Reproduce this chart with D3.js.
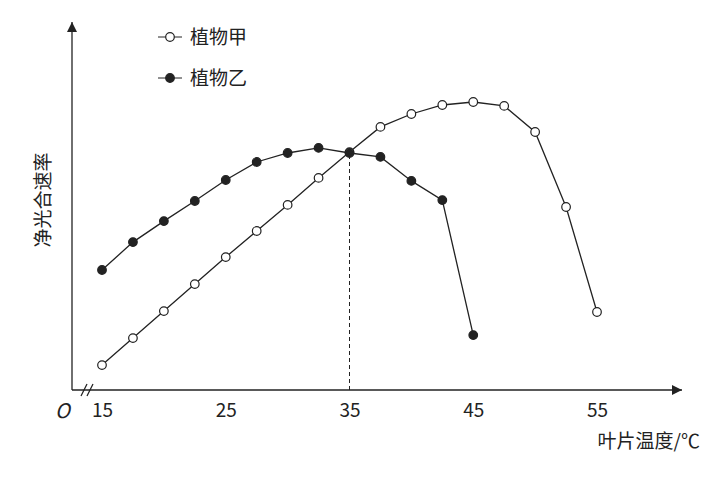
<!DOCTYPE html>
<html><head><meta charset="utf-8">
<script src="https://cdn.jsdelivr.net/npm/d3@7"></script>
<style>body{margin:0;background:#fff}text{font-family:"Noto Sans CJK SC","DejaVu Sans",sans-serif;fill:#222}</style>
</head><body><svg id="c" width="728" height="488"></svg>
<script>
const tempsA = [15,17.5,20,22.5,25,27.5,30,32.5,35,37.5,40,42.5,45,47.5,50,52.5,55];
const rateA = [8.3,17.3,26.3,35.3,44.3,53,61.7,70.7,79.3,87.7,92,95,96,94.7,86,61,26];
const tempsB = [15,17.5,20,22.5,25,27.5,30,32.5,35,37.5,40,42.5,45];
const rateB = [40,49.3,56.3,63,70,76,79,80.7,79,77.7,69.7,63.3,18.3];
const xTicks = [15,25,35,45,55];

const svg = d3.select('#c');
const x = d3.scaleLinear().domain([15,55]).range([102,597]);
const y = d3.scaleLinear().domain([0,120]).range([390,30]);
const col = '#222';

svg.append('defs').append('marker').attr('id','ar').attr('viewBox','0 0 10 10')
  .attr('refX',10).attr('refY',5).attr('markerWidth',10).attr('markerHeight',10)
  .attr('markerUnits','userSpaceOnUse').attr('orient','auto')
  .append('path').attr('d','M0,0L10,5L0,10z').attr('fill',col);

svg.append('line').attr('x1',72).attr('y1',390).attr('x2',72).attr('y2',22)
  .attr('stroke',col).attr('stroke-width',1.3).attr('marker-end','url(#ar)');
svg.append('line').attr('x1',72).attr('y1',390).attr('x2',682).attr('y2',390)
  .attr('stroke',col).attr('stroke-width',1.3).attr('marker-end','url(#ar)');
// axis break
[84,90].forEach(bx => svg.append('line').attr('x1',bx-3).attr('y1',396).attr('x2',bx+3).attr('y2',384)
  .attr('stroke',col).attr('stroke-width',1.2));

const ax = svg.append('g').attr('transform','translate(0,390)')
  .call(d3.axisBottom(x).tickValues(xTicks).tickSize(0).tickPadding(14));
ax.select('.domain').remove();
ax.selectAll('text').attr('font-size',19).attr('font-family','"Liberation Serif",serif').style('fill','#222');

svg.append('text').attr('x',55).attr('y',418).attr('font-size',20).attr('font-style','italic')
  .attr('font-family','"Liberation Serif",serif').text('O');
svg.append('text').attr('x',700).attr('y',448).attr('text-anchor','end').attr('font-size',19).text('叶片温度/℃');
svg.append('text').attr('transform','translate(50,200) rotate(-90)').attr('text-anchor','middle')
  .attr('font-size',19).text('净光合速率');

svg.append('line').attr('x1',x(35)).attr('x2',x(35)).attr('y1',390).attr('y2',y(79.3))
  .attr('stroke',col).attr('stroke-dasharray','4,3');

const line = d3.line().x(d=>x(d[0])).y(d=>y(d[1]));
function series(t,r,fill){
  const pts = t.map((v,i)=>[v,r[i]]);
  svg.append('path').attr('d',line(pts)).attr('fill','none').attr('stroke',col).attr('stroke-width',1.3);
  svg.append('g').selectAll('circle').data(pts).join('circle')
    .attr('cx',d=>x(d[0])).attr('cy',d=>y(d[1])).attr('r',4.3)
    .attr('fill',fill).attr('stroke',col).attr('stroke-width',1.2);
}
series(tempsA,rateA,'#fff');
series(tempsB,rateB,'#222');

// legend
[['植物甲','#fff',37],['植物乙','#222',78]].forEach(([t,f,ly])=>{
  svg.append('line').attr('x1',158).attr('x2',182).attr('y1',ly).attr('y2',ly).attr('stroke',col);
  svg.append('circle').attr('cx',170).attr('cy',ly).attr('r',4.3).attr('fill',f).attr('stroke',col).attr('stroke-width',1.2);
  svg.append('text').attr('x',190).attr('y',ly+7).attr('font-size',19).text(t);
});
</script></body></html>
